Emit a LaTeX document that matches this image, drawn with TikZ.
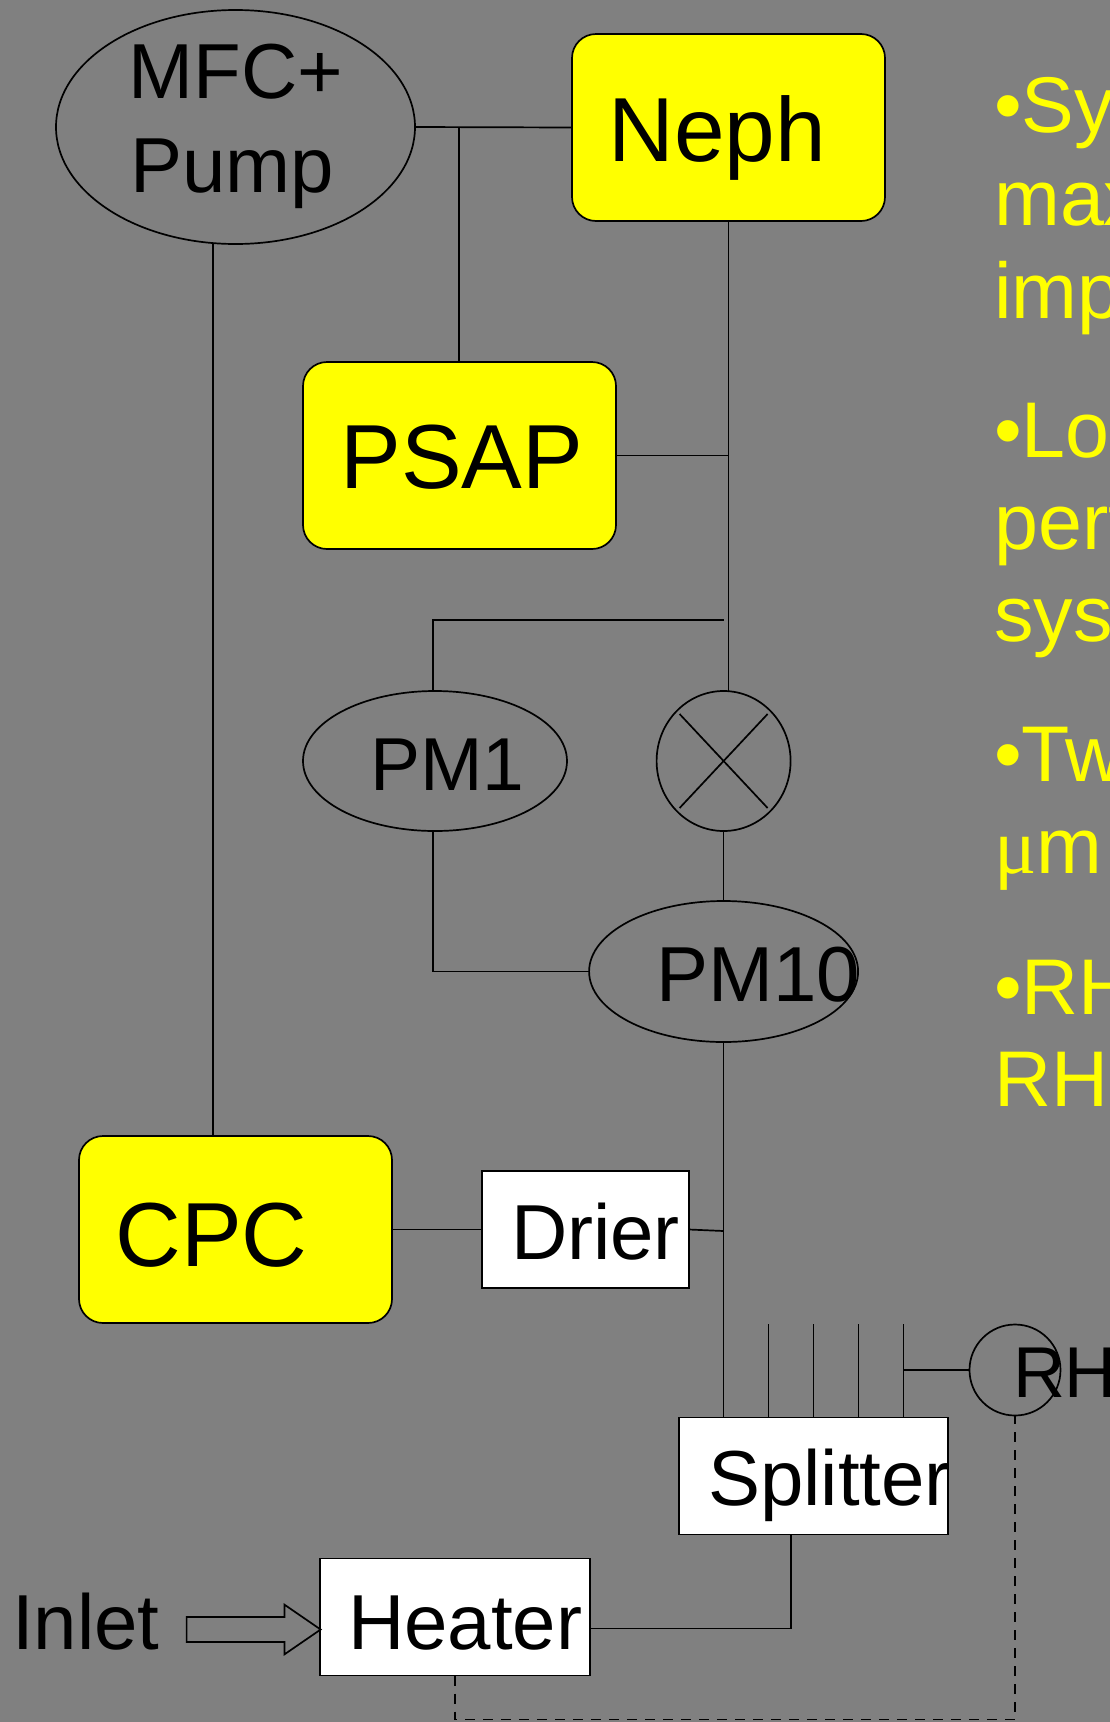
\documentclass[tikz,border=0pt]{standalone}
\usepackage{fontspec}
\setmainfont{Liberation Sans}
\newfontfamily\muserif{Liberation Serif}
\usetikzlibrary{shapes.geometric,shapes.arrows}
\definecolor{bggray}{HTML}{808080}
\definecolor{hiyellow}{HTML}{FFFF00}
\newcommand{\offtext}[3]{\rlap{\hspace*{#1pt}\raisebox{#2pt}[0pt][0pt]{#3}}}
\tikzset{
  big/.style={font=\fontsize{91}{91}\selectfont},
  mid/.style={font=\fontsize{78}{78}\selectfont},
  shp/.style={draw=black,line width=1.7pt,inner sep=0pt,outer sep=0pt},
  instrument/.style={shp,big,fill=hiyellow,rectangle,rounded corners=24pt,minimum width=313pt,minimum height=187pt},
  whitebox/.style={shp,mid,fill=white,rectangle},
  oval/.style={shp,mid,ellipse},
  pipe/.style={draw=black,line width=1.7pt},
  dashpipe/.style={draw=black,line width=1.7pt,dash pattern=on 10pt off 8pt},
  side/.style={text=hiyellow,anchor=base west,inner sep=0pt,font=\fontsize{79}{79}\selectfont}
}
\begin{document}
\begin{tikzpicture}[x=1pt,y=-1pt]
\useasboundingbox (0,0) rectangle (1110,1722);
\clip (0,0) rectangle (1110,1722);
\fill[bggray] (0,0) rectangle (1110,1722);

% coordinates
\coordinate (pmleft) at (433,620);
\coordinate (pmright) at (723.6,620);
\coordinate (s1) at (723.6,1417.5);
\coordinate (s2) at (768.6,1324);
\coordinate (s3) at (813.6,1324);
\coordinate (s4) at (858.6,1324);
\coordinate (s5) at (903.6,1324);
\coordinate (hcorner) at (791,1628.5);
\coordinate (dcorner) at (1015,1719.5);
\coordinate (drj) at (723.6,1231);

\node[oval,minimum width=359pt,minimum height=234pt] (mfc) at (235.5,127)
  {\offtext{-107}{29}{MFC+}\offtext{-105}{-65}{Pump}};
\node[instrument] (neph) at (728.5,127.5) {\offtext{-120}{-33.5}{Neph}};
\node[instrument] (psap) at (459.5,455.5) {\offtext{-119}{-33}{PSAP}};
\node[instrument] (cpc) at (235.5,1229.5) {\offtext{-120}{-36.5}{CPC}};
\node[oval,minimum width=264pt,minimum height=140pt] (pm1) at (435,761) {\fontsize{75}{75}\selectfont\offtext{-65}{-29.5}{PM1}};
\node[shp,ellipse,minimum width=134pt,minimum height=140pt] (xv) at (723.6,761) {};
\node[oval,minimum width=269pt,minimum height=141pt] (pm10) at (723.6,971.5) {\offtext{-67}{-29.5}{PM10}};
\node[whitebox,minimum width=207pt,minimum height=117pt] (drier) at (585.5,1229.5) {\offtext{-74.5}{-29.5}{Drier}};
\node[whitebox,minimum width=269pt,minimum height=117pt] (spl) at (813.5,1476) {\offtext{-105.5}{-29}{Splitter}};
\node[whitebox,minimum width=270pt,minimum height=117pt] (heater) at (455,1617) {\offtext{-107}{-32}{Heater}};
\node[shp,mid,circle,minimum size=91pt] (rh) at (1015,1370) {\fontsize{72}{72}\selectfont\offtext{-2}{-27}{RH}};
\node[mid,anchor=base west,inner sep=0pt] (inlet) at (12,1649) {Inlet};
\node[shp,single arrow,single arrow tip angle=69,single arrow head extend=12.3pt,single arrow head indent=0pt,inner ysep=11.7pt,minimum width=48pt,minimum height=134pt] (inarrow) at (244.5,1629.5) {};

% connectors
\draw[pipe] (mfc.east) -- (neph.west);
\coordinate (tee) at (459,127);
\draw[pipe] (tee) -- (tee |- psap.north);
\draw[pipe] (mfc.259) -- (mfc.259 |- cpc.north);
\draw[pipe] (neph.south) -- (neph.south |- xv.north);
\draw[pipe] (psap.east) -- (psap.east -| neph.south);
\draw[pipe] (pmleft |- pm1.north) -- (pmleft) -- (pmright);
\draw[pipe] (pmleft |- pm1.south) |- (pm10.west);
\draw[pipe] ([shift={(-44,-47)}]xv.center) -- ([shift={(44,47)}]xv.center);
\draw[pipe] ([shift={(44,-47)}]xv.center) -- ([shift={(-44,47)}]xv.center);
\draw[pipe] (xv.south) -- (pm10.north);
\draw[pipe] (pm10.south) -- (s1);
\draw[pipe] (cpc.east) -- (drier.west);
\draw[pipe] (drier.east) -- (drj);
\foreach \s in {s2,s3,s4,s5} \draw[pipe] (\s) -- (\s |- spl.north);
\draw[pipe] (rh.west) -- (rh.west -| s5);
\draw[pipe] (hcorner |- spl.south) -- (hcorner) -- (hcorner -| heater.east);
\draw[dashpipe] (heater.south) -- (heater.south |- dcorner) -- (dcorner) -- (rh.south);

% side text, cut by the edge of the picture
\node[side] (y1) at (994,132.5) {•Sy};
\node[side] (y2) at (994,225.5) {max};
\node[side] (y3) at (994,318.5) {imp};
\node[side] (y4) at (994,457.5) {•Los};
\node[side] (y5) at (994,549.5) {pert};
\node[side] (y6) at (994,641.5) {syst};
\node[side] (y7) at (994,781.5) {•Tw};
\node[side] (y8) at (994,873.5) {{\muserif μ}m};
\node[side] (y9) at (994,1014.5) {•RH};
\node[side] (y10) at (994,1106.5) {RH};
\end{tikzpicture}
\end{document}
